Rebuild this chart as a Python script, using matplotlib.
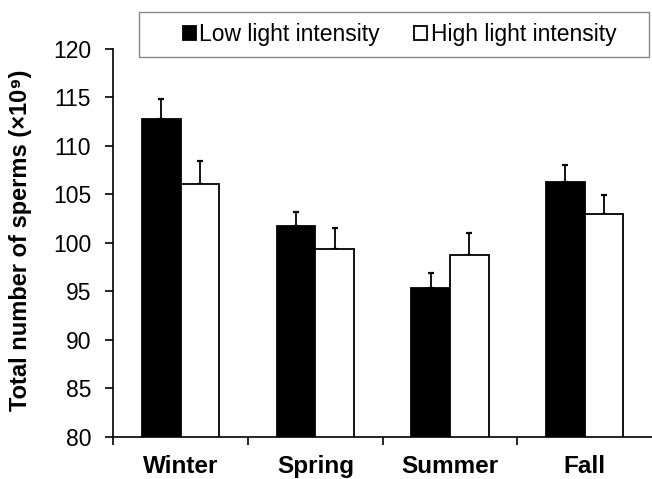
import matplotlib
matplotlib.use("Agg")
import matplotlib.pyplot as plt
from matplotlib.patches import Rectangle
import numpy as np

plt.rcParams['font.family'] = ['Liberation Sans', 'DejaVu Sans']

seasons = ["Winter", "Spring", "Summer", "Fall"]
low_light = [112.8, 101.7, 95.3, 106.3]
low_err = [2.0, 1.5, 1.6, 1.7]
high_light = [106.1, 99.4, 98.7, 103.0]
high_err = [2.3, 2.1, 2.3, 1.9]
yticks = [80, 85, 90, 95, 100, 105, 110, 115, 120]

W, H = 652, 479
fig = plt.figure(figsize=(W / 100, H / 100), dpi=100)
ax = fig.add_axes([0.174, 0.088, 0.826, 0.81])

x = np.arange(len(seasons)) + 0.5
w = 0.287
ax.bar(x - w/2, low_light, w, color='black', edgecolor='black', linewidth=1.3,
       label='Low light intensity', zorder=2)
ax.bar(x + w/2, high_light, w, color='white', edgecolor='black', linewidth=1.3,
       label='High light intensity', zorder=2)
ax.errorbar(x - w/2, low_light, yerr=[np.zeros(4), low_err], fmt='none',
            ecolor='black', elinewidth=1.3, capsize=2.5, capthick=1.6, zorder=1)
ax.errorbar(x + w/2, high_light, yerr=[np.zeros(4), high_err], fmt='none',
            ecolor='black', elinewidth=1.3, capsize=2.5, capthick=1.6, zorder=1)

ax.set_xlim(0, 4)
ax.set_ylim(80, 120)
ax.set_yticks(yticks)
ax.set_yticklabels([str(v) for v in yticks], fontsize=16.5)
ax.set_xticks([0, 1, 2, 3])
ax.set_xticklabels([])
ax.tick_params(axis='y', direction='out', length=6, width=1.2, pad=10)
ax.tick_params(axis='x', direction='out', length=5.5, width=1.2)
for i, s in enumerate(seasons):
    ax.text(x[i], -0.077, s, transform=ax.get_xaxis_transform(), ha='center',
            va='center', fontsize=17.5, fontweight='bold')

for sp in ['top', 'right']:
    ax.spines[sp].set_visible(False)
for sp in ['left', 'bottom']:
    ax.spines[sp].set_linewidth(1.2)

fig.text(0.031, 0.499, 'Total number of sperms (×10⁹)', rotation=90,
         ha='center', va='center', fontsize=17, fontweight='bold')

# legend box frame
fig.patches.append(Rectangle((139 / W, 1 - 57 / H), 510 / W, 45 / H,
                             transform=fig.transFigure, facecolor='white',
                             edgecolor='#888888', linewidth=1.0, zorder=0))
leg = fig.legend(loc='center', bbox_to_anchor=(399.5 / W, 1 - 34.5 / H), ncol=2,
                 fontsize=16.5, frameon=False,
                 handlelength=0.57, handleheight=0.57, handletextpad=0.15,
                 columnspacing=1.5, borderpad=0.0, borderaxespad=0)

fig.savefig('out.png', dpi=100)
